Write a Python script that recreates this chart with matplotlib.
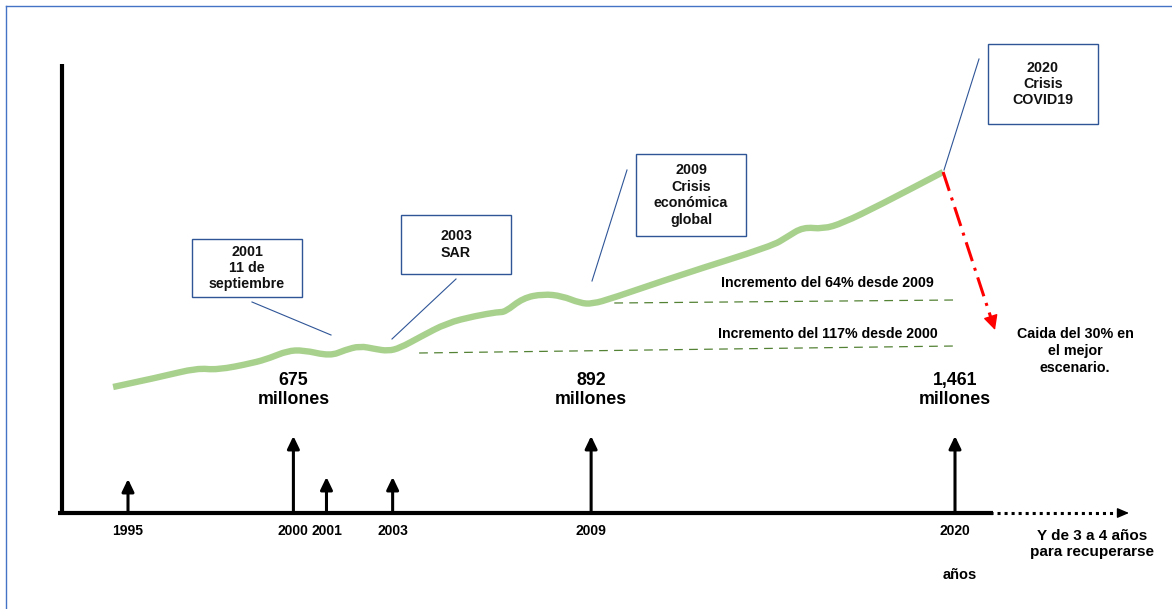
import matplotlib
matplotlib.use("Agg")
import matplotlib.pyplot as plt
from matplotlib.patches import Rectangle, PathPatch
from matplotlib.path import Path
from matplotlib.lines import Line2D

plt.rcParams['font.family'] = ['Liberation Sans', 'DejaVu Sans']
plt.rcParams['font.weight'] = 'bold'

# ---- data ----
# green trend line (year, level above the time axis)
trend_years = [1994.55, 1995.97, 1997.09, 1997.69, 1998.78, 1999.29, 1999.81, 2000.29,
               2001.11, 2001.56, 2002.01, 2002.47, 2002.86, 2003.22, 2003.83, 2004.64,
               2005.49, 2006.19, 2006.40, 2006.94, 2007.55, 2008.12, 2008.66, 2009.03,
               2009.66, 2011.69, 2014.47, 2014.92, 2015.41, 2016.01, 2016.61, 2017.73,
               2019.64]
trend_level = [126, 136, 145, 143, 150, 155, 162, 163,
               157, 163, 167, 164, 162, 165, 176, 190,
               197, 201, 201, 215, 219, 217, 210, 209,
               215, 238, 267, 276, 286, 284, 290, 308,
               341]

# year markers on the time axis
mark_years = [1995, 2000, 2001, 2003, 2009, 2020]
mark_height = [34, 77, 36, 36, 77, 77]

# tourist arrivals labels
arrival_years = [2000, 2009, 2020]
arrival_labels = ["675\nmillones", "892\nmillones", "1,461\nmillones"]

# events
event_labels = ["2001\n11 de\nseptiembre", "2003\nSAR",
                "2009\nCrisis\neconómica\nglobal", "2020\nCrisis\nCOVID19"]

# reference lines
ref_labels = ["Incremento del 64% desde 2009", "Incremento del 117% desde 2000"]
ref_start = [2009.7, 2003.8]
ref_end = [2020.0, 2020.0]
ref_level_start = [210, 160]
ref_level_end = [213, 167]

# fall scenario
fall_end_year = 2021.21
fall_end_level = 183

# ---- figure ----
W, H = 1172, 609
fig = plt.figure(figsize=(W / 100, H / 100), dpi=100)
ax = fig.add_axes([0, 0, 1, 1])
PX = 33.08  # pixels per year
ax.set_xlim(1995 - 128 / PX, 1995 + (W - 128) / PX)
ax.set_ylim(513 - H, 513)
ax.axis('off')

def X(px):
    return 1995 + (px - 128) / PX

def Y(py):
    return 513 - py

# page frame
fig.add_artist(Line2D([6 / W, 6 / W], [0, 1 - 6 / H], color='#4472c4', lw=1))
fig.add_artist(Line2D([6 / W, 1], [1 - 6 / H, 1 - 6 / H], color='#4472c4', lw=1))

# axes
ax.plot([X(62), X(62)], [0, Y(64)], color='black', lw=3, solid_capstyle='butt')
ax.plot([X(58), X(993)], [0, 0], color='black', lw=3, solid_capstyle='butt')
ax.plot([X(990), X(1118)], [0, 0], color='black', lw=2.2, linestyle=(0, (1, 1.3)))
ax.annotate('', xy=(X(1129), 0), xytext=(X(1118), 0),
            arrowprops=dict(arrowstyle='-|>,head_length=0.7,head_width=0.3',
                            color='black', lw=1, shrinkA=0, shrinkB=0))

# year arrows
for yr, h in zip(mark_years, mark_height):
    ax.annotate('', xy=(yr, h), xytext=(yr, 0),
                arrowprops=dict(arrowstyle='-|>,head_length=0.75,head_width=0.36',
                                color='black', lw=2.2, shrinkA=0, shrinkB=0))
    ax.text(yr, Y(531), str(yr), ha='center', va='center', fontsize=10)

# trend, drawn as a smooth quadratic path through the read points
pts = list(zip(trend_years, trend_level))
verts = [pts[0]]
codes = [Path.MOVETO]
for i in range(1, len(pts) - 1):
    mid = ((pts[i][0] + pts[i + 1][0]) / 2, (pts[i][1] + pts[i + 1][1]) / 2)
    verts += [pts[i], mid]
    codes += [Path.CURVE3, Path.CURVE3]
verts.append(pts[-1])
codes.append(Path.LINETO)
ax.add_patch(PathPatch(Path(verts, codes), fill=False, edgecolor='#a9d18e', lw=4.6,
                       capstyle='butt', joinstyle='round'))

# reference lines
for lab, x0, x1, y0, y1 in zip(ref_labels, ref_start, ref_end, ref_level_start, ref_level_end):
    ax.plot([x0, x1], [y0, y1], color='#548235', lw=0.9, linestyle=(0, (7, 5)))
ax.text(X(827), Y(283), ref_labels[0], ha='center', va='center', fontsize=10.2)
ax.text(X(828), Y(334), ref_labels[1], ha='center', va='center', fontsize=10.2)

# fall of 30%
ax.plot([trend_years[-1], X(991)], [trend_level[-1], Y(318)], color='#ff0000', lw=2.2,
        linestyle=(0, (6.5, 2.3, 1, 2.3)), solid_capstyle='butt')
ax.annotate('', xy=(fall_end_year, fall_end_level), xytext=(X(990.5), Y(316)),
            arrowprops=dict(arrowstyle='-|>,head_length=0.9,head_width=0.45',
                            color='#ff0000', lw=1, shrinkA=0, shrinkB=0))
ax.text(X(1075), Y(351), "Caida del 30% en\nel mejor\nescenario.", ha='center',
        va='center', fontsize=10.3, linespacing=1.25)

# arrivals
for yr, lab in zip(arrival_years, arrival_labels):
    ax.text(yr, Y(390), lab, ha='center', va='center', fontsize=12.8, linespacing=1.2)

# events: boxes (pixel layout) and callouts
boxes = [(192, 239, 302, 297), (401, 215, 511, 274), (636, 154, 746, 236), (988, 44, 1098, 124)]
callouts = [((252, 302), (331, 335)), ((456, 279), (392, 339)),
            ((627, 170), (592, 281)), ((979, 59), (944, 170))]
for lab, (x0, y0, x1, y1), (p, q) in zip(event_labels, boxes, callouts):
    ax.add_patch(Rectangle((X(x0), Y(y1)), X(x1) - X(x0), Y(y0) - Y(y1),
                           fill=False, edgecolor='#2f5597', lw=1))
    ax.text((X(x0) + X(x1)) / 2, (Y(y0) + Y(y1)) / 2, lab, ha='center', va='center',
            fontsize=10.3, linespacing=1.22, color='#111111')
    ax.plot([X(p[0]), X(q[0])], [Y(p[1]), Y(q[1])], color='#2f5597', lw=0.8)

# axis texts
ax.text(X(1092), Y(544), "Y de 3 a 4 años\npara recuperarse", ha='center', va='center',
        fontsize=11, linespacing=1.2)
ax.text(X(960), Y(575), "años", ha='center', va='center', fontsize=10.5)

fig.savefig("out.png", dpi=100)
